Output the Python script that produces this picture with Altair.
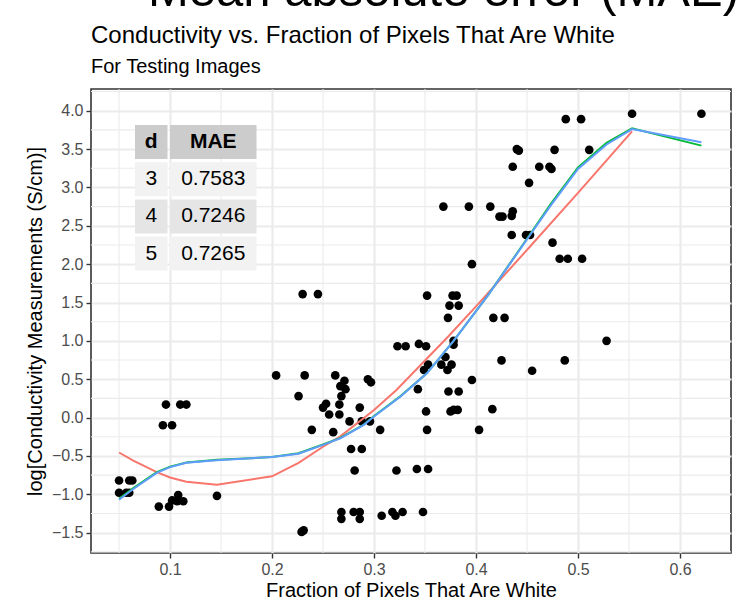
import altair as alt
import pandas as pd

# ---------------- data ----------------
frac_white = [
    0.050, 0.060, 0.063, 0.050, 0.057, 0.060, 0.089, 0.099, 0.102, 0.108,
    0.107, 0.113, 0.146, 0.093, 0.102, 0.096, 0.110, 0.116,
    0.204, 0.226, 0.230, 0.245, 0.232, 0.239, 0.229, 0.231, 0.262, 0.271,
    0.267, 0.272, 0.268, 0.266, 0.253, 0.250, 0.256, 0.266, 0.260, 0.276,
    0.286, 0.294, 0.297, 0.288, 0.296, 0.2775, 0.288, 0.281, 0.268, 0.268,
    0.280, 0.286, 0.286,
    0.306, 0.3075, 0.318, 0.321, 0.328, 0.348, 0.322, 0.342, 0.353, 0.323,
    0.331, 0.344, 0.351, 0.349, 0.353, 0.343, 0.351, 0.352, 0.352, 0.377,
    0.381, 0.374, 0.383, 0.3725, 0.378, 0.378, 0.366, 0.370, 0.372, 0.376,
    0.373, 0.383, 0.375, 0.378, 0.382, 0.368, 0.393, 0.396, 0.396,
    0.403, 0.416, 0.414, 0.423, 0.426, 0.436, 0.435, 0.435, 0.449, 0.453,
    0.417, 0.428, 0.425, 0.455, 0.440, 0.442, 0.436, 0.452, 0.462, 0.472,
    0.474, 0.477, 0.488, 0.503, 0.511, 0.475, 0.482, 0.490, 0.504, 0.487,
    0.528, 0.553, 0.621,
]
log_cond = [
    -0.82, -0.82, -0.82, -0.98, -0.98, -0.98, -1.16, -1.16, -1.08, -1.01,
    -1.09, -1.09, -1.02, -0.10, -0.10, 0.17, 0.17, 0.17,
    0.55, 0.28, 1.61, 1.61, 0.55, -0.16, -1.49, -1.47, 0.55, 0.48,
    0.41, 0.37, 0.28, 0.17, 0.18, 0.13, 0.04, 0.04, -0.19, -0.05,
    0.13, 0.50, 0.46, -0.05, -0.05, -0.41, -0.41, -0.69, -1.23, -1.32,
    -1.23, -1.23, -1.32,
    -0.16, -1.28, -1.23, -1.28, -1.23, -1.23, -0.69, -0.67, -0.67, 0.93,
    0.93, 0.96, 0.93, 0.62, 0.69, 0.37, 0.08, -0.16, 1.59, 1.59,
    1.59, 1.46, 1.46, 1.30, 1.00, 0.95, 0.69, 0.79, 0.62, 0.69,
    0.34, 0.34, 0.08, 0.10, 0.10, 2.75, 2.75, 2.00, 0.49,
    -0.16, 0.11, 2.75, 2.62, 2.62, 2.69, 2.63, 2.38, 2.38, 2.38,
    1.30, 1.30, 0.745, 0.61, 3.50, 3.48, 3.27, 3.06, 3.27, 3.27,
    3.24, 3.49, 3.89, 3.89, 3.49, 2.28, 2.07, 2.07, 2.07, 0.745,
    1.00, 3.96, 3.96,
]

# fitted polynomial curves
fit_x_d3 = [0.050, 0.064, 0.087, 0.100, 0.116, 0.146, 0.200, 0.226, 0.250,
            0.267, 0.300, 0.322, 0.373, 0.400, 0.453, 0.500, 0.553]
fit_y_d3 = [-0.455, -0.56, -0.71, -0.78, -0.835, -0.875, -0.765, -0.59, -0.38,
            -0.245, 0.10, 0.36, 1.06, 1.45, 2.23, 2.93, 3.73]
fit_x_d45 = [0.050, 0.064, 0.087, 0.100, 0.116, 0.146, 0.200, 0.226, 0.250,
             0.267, 0.290, 0.300, 0.326, 0.352, 0.378, 0.412, 0.453, 0.473,
             0.500, 0.528, 0.553, 0.621]
fit_y_d4 = [-1.06, -0.92, -0.71, -0.64, -0.585, -0.55, -0.515, -0.465, -0.35,
            -0.265, -0.09, 0.02, 0.28, 0.58, 1.00, 1.60, 2.39, 2.78,
            3.26, 3.58, 3.77, 3.545]
fit_y_d5 = [-1.07, -0.93, -0.72, -0.645, -0.59, -0.555, -0.515, -0.47, -0.355,
            -0.27, -0.095, 0.015, 0.275, 0.58, 1.00, 1.60, 2.38, 2.76,
            3.24, 3.56, 3.76, 3.59]

table_d = [3, 4, 5]
table_mae = ["0.7583", "0.7246", "0.7265"]

x_ticks = [0.1, 0.2, 0.3, 0.4, 0.5, 0.6]
x_minor = [0.05, 0.15, 0.25, 0.35, 0.45, 0.55]
y_ticks = [-1.5, -1.0, -0.5, 0.0, 0.5, 1.0, 1.5, 2.0, 2.5, 3.0, 3.5, 4.0]
y_minor = [-1.75, -1.25, -0.75, -0.25, 0.25, 0.75, 1.25, 1.75, 2.25, 2.75,
           3.25, 3.75, 4.25]

top_text = "Mean absolute error (MAE)"
title_text = "Conductivity vs. Fraction of Pixels That Are White"
subtitle_text = "For Testing Images"
x_title = "Fraction of Pixels That Are White"
y_title = "log[Conductivity Measurements (S/cm)]"

# ---------------- chart ----------------
FONT = "Liberation Sans"
W, H = 640, 464

pts = pd.DataFrame({"x": frac_white, "y": log_cond})
xs = alt.Scale(domain=[0.0225, 0.65], nice=False, zero=False)
ys = alt.Scale(domain=[-1.765, 4.283], nice=False, zero=False)

x_axis = alt.Axis(values=x_ticks, format=".1f", title=x_title, grid=True,
                  gridColor="#EBEBEB", gridWidth=2.2, domain=False,
                  tickColor="#333333", tickSize=5, tickWidth=1.4,
                  labelFont=FONT, labelFontSize=16, labelColor="#4D4D4D",
                  labelPadding=3, titleFont=FONT, titleFontSize=20,
                  titleFontWeight="normal", titleColor="#000000", titlePadding=3)
y_axis = alt.Axis(values=y_ticks, format=".1f", title=y_title, grid=True,
                  gridColor="#EBEBEB", gridWidth=2.2, domain=False,
                  tickColor="#333333", tickSize=5, tickWidth=1.4,
                  labelFont=FONT, labelFontSize=16, labelColor="#4D4D4D",
                  labelPadding=3, titleFont=FONT, titleFontSize=20,
                  titleFontWeight="normal", titleColor="#000000", titlePadding=6)

minor_x = alt.Chart(pd.DataFrame({"v": x_minor})).mark_rule(
    color="#EBEBEB", strokeWidth=1.1).encode(x=alt.X("v:Q", scale=xs, axis=x_axis))
minor_y = alt.Chart(pd.DataFrame({"v": y_minor})).mark_rule(
    color="#EBEBEB", strokeWidth=1.1).encode(y=alt.Y("v:Q", scale=ys, axis=y_axis))

points = alt.Chart(pts).mark_circle(size=75, color="#000000", opacity=1).encode(
    x=alt.X("x:Q", scale=xs, axis=x_axis),
    y=alt.Y("y:Q", scale=ys, axis=y_axis),
)

def fit_line(xv, yv, color):
    df = pd.DataFrame({"x": xv, "y": yv})
    return alt.Chart(df).mark_line(color=color, strokeWidth=2).encode(
        x=alt.X("x:Q", scale=xs, axis=x_axis),
        y=alt.Y("y:Q", scale=ys, axis=y_axis),
    )

line3 = fit_line(fit_x_d3, fit_y_d3, "#F8766D")
line4 = fit_line(fit_x_d45, fit_y_d4, "#00BA38")
line5 = fit_line(fit_x_d45, fit_y_d5, "#619CFF")

# ---------------- inset table ----------------
cells = [{"row": 0, "col": 0, "label": "d"}, {"row": 0, "col": 1, "label": "MAE"}]
for r, (d, m) in enumerate(zip(table_d, table_mae), start=1):
    cells.append({"row": r, "col": 0, "label": str(d)})
    cells.append({"row": r, "col": 1, "label": m})
cells_df = pd.DataFrame(cells)

tbl = alt.Chart(cells_df).transform_calculate(
    x0="datum.col == 0 ? 44 : 79",
    x1="datum.col == 0 ? 76.5 : 165.5",
    xc="datum.col == 0 ? 60.25 : 122.25",
    y0="36 + datum.row * 37.2",
    y1="70 + datum.row * 37.2",
    yc="53 + datum.row * 37.2",
    shade="datum.row == 0 ? 'h' : (datum.row % 2 == 1 ? 'a' : 'b')",
)
tbl_rect = tbl.mark_rect().encode(
    x=alt.X("x0:Q", scale=None, axis=None), x2="x1:Q",
    y=alt.Y("y0:Q", scale=None, axis=None), y2="y1:Q",
    color=alt.Color("shade:N", legend=None,
                    scale=alt.Scale(domain=["h", "a", "b"],
                                    range=["#CCCCCC", "#F2F2F2", "#E5E5E5"])),
)
tbl_head = tbl.transform_filter("datum.row == 0").mark_text(
    font=FONT, fontSize=21, fontWeight="bold", color="#000000",
    align="center", baseline="middle").encode(
    x=alt.X("xc:Q", scale=None, axis=None), y=alt.Y("yc:Q", scale=None, axis=None),
    text="label:N")
tbl_body = tbl.transform_filter("datum.row > 0").mark_text(
    font=FONT, fontSize=21, color="#000000",
    align="center", baseline="middle").encode(
    x=alt.X("xc:Q", scale=None, axis=None), y=alt.Y("yc:Q", scale=None, axis=None),
    text="label:N")

# ---------------- titles ----------------
def text_layer(txt, size, x, y):
    return alt.Chart(pd.DataFrame({"t": [txt]})).mark_text(
        font=FONT, fontSize=size, color="#000000", align="left",
        baseline="alphabetic").encode(text="t:N", x=alt.value(x), y=alt.value(y))

big = text_layer(top_text, 49, 57, -83)
ttl = text_layer(title_text, 24, 0, -46)
sub = text_layer(subtitle_text, 20, 0, -16)

chart = alt.layer(
    minor_x, minor_y, points, line3, line4, line5,
    tbl_rect, tbl_head, tbl_body, big, ttl, sub,
).properties(
    width=W, height=H,
    autosize=alt.AutoSizeParams(type="none"),
    padding={"left": 91, "top": 89, "right": 13, "bottom": 49},
    background="#FFFFFF",
).configure_view(stroke="#333333", strokeWidth=1.6)

chart.save("out.html", embed_options={"renderer": "svg", "actions": False})
